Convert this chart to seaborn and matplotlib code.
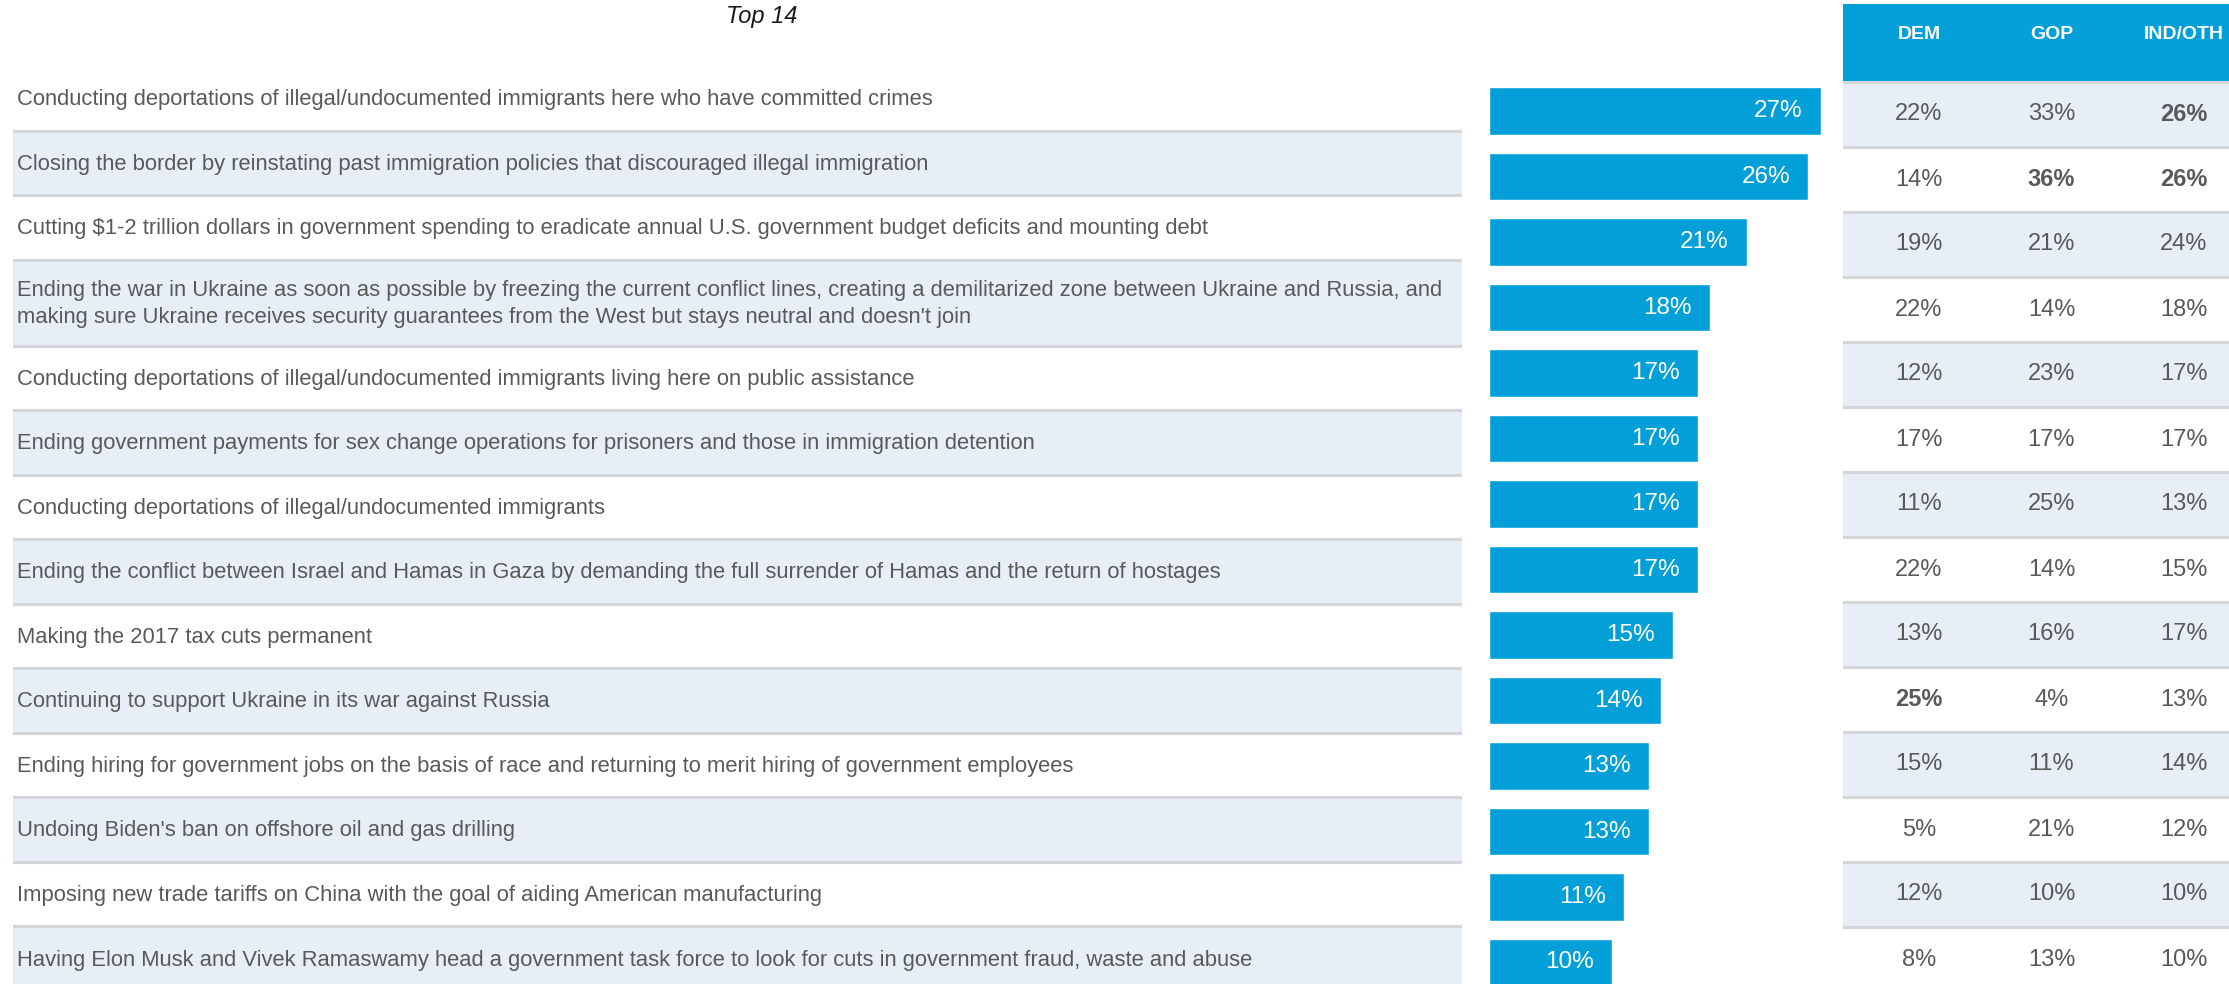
import matplotlib
matplotlib.use("Agg")
import matplotlib.pyplot as plt
import seaborn as sns
import pandas as pd

# Data
policies = [
    "Conducting deportations of illegal/undocumented immigrants here who have committed crimes",
    "Closing the border by reinstating past immigration policies that discouraged illegal immigration",
    "Cutting $1-2 trillion dollars in government spending to eradicate annual U.S. government budget deficits and mounting debt",
    "Ending the war in Ukraine as soon as possible by freezing the current conflict lines, creating a demilitarized zone between Ukraine and Russia, and\nmaking sure Ukraine receives security guarantees from the West but stays neutral and doesn't join",
    "Conducting deportations of illegal/undocumented immigrants living here on public assistance",
    "Ending government payments for sex change operations for prisoners and those in immigration detention",
    "Conducting deportations of illegal/undocumented immigrants",
    "Ending the conflict between Israel and Hamas in Gaza by demanding the full surrender of Hamas and the return of hostages",
    "Making the 2017 tax cuts permanent",
    "Continuing to support Ukraine in its war against Russia",
    "Ending hiring for government jobs on the basis of race and returning to merit hiring of government employees",
    "Undoing Biden's ban on offshore oil and gas drilling",
    "Imposing new trade tariffs on China with the goal of aiding American manufacturing",
    "Having Elon Musk and Vivek Ramaswamy head a government task force to look for cuts in government fraud, waste and abuse",
]
overall = [27, 26, 21, 18, 17, 17, 17, 17, 15, 14, 13, 13, 11, 10]
party_cols = ["DEM", "GOP", "IND/OTH"]
dem = [22, 14, 19, 22, 12, 17, 11, 22, 13, 25, 15, 5, 12, 8]
gop = [33, 36, 21, 14, 23, 17, 25, 14, 16, 4, 11, 21, 10, 13]
ind = [26, 26, 24, 18, 17, 17, 13, 15, 17, 13, 14, 12, 10, 10]
# cells shown in bold (row, column)
bold_cells = [(0, 2), (1, 1), (1, 2), (9, 0)]
title = "Top 14"

BLUE = "#029fd9"
BAND = "#e7eef8"
LINE = "#d3d5d9"
GREY = "#595959"
FONT = "Liberation Sans"

sns.set_theme(style="white")
plt.rcParams["font.family"] = [FONT, "DejaVu Sans"]

W, H = 2229, 984
fig = plt.figure(figsize=(W / 100, H / 100), dpi=100)


def px_axes(x0, y0, x1, y1):
    # axes placed by pixel box (top-left origin)
    return fig.add_axes([x0 / W, 1 - y1 / H, (x1 - x0) / W, (y1 - y0) / H])


# ---- left label panel ----
heights = [1 + 0.33 * p.count("\n") for p in policies]
ax_lab = px_axes(13, 66, 1462, 991)
ax_lab.set_xlim(0, 1)
ax_lab.set_ylim(sum(heights), 0)
ax_lab.axis("off")
top = 0
for i, (p, h) in enumerate(zip(policies, heights)):
    if i % 2 == 1:
        ax_lab.axhspan(top, top + h, color=BAND, lw=0, zorder=0)
    if i > 0:
        ax_lab.axhline(top, color=LINE, lw=2.2, zorder=1)
    if i % 2 == 1:
        ax_lab.axhline(top + h, color=LINE, lw=2.2, zorder=1)
    ax_lab.text(0.003, top + h / 2 + 0.02, p, ha="left", va="center", fontsize=15.8,
                color=GREY, linespacing=1.4)
    top += h

# ---- bar panel ----
df = pd.DataFrame({"policy": policies, "overall": overall})
ax_bar = px_axes(1489, 78.25, 1843, 995.25)
sns.barplot(data=df, x="overall", y="policy", orient="h", color=BLUE,
            width=0.72, saturation=1, ax=ax_bar)
ax_bar.set_xlim(0, 354 / 12.28)
ax_bar.set_ylim(len(policies) - 0.5, -0.5)
ax_bar.axis("off")
for i, v in enumerate(overall):
    ax_bar.annotate(f"{v}%", (v, i), xytext=(-13, 0), textcoords="offset points",
                    ha="right", va="center", color="white", fontsize=17.5)

# ---- party table ----
ax_tab = px_axes(1843, 4, 2229, 992)
ax_tab.set_xlim(-0.574, 2.34)
ax_tab.set_ylim(len(policies) - 0.5, -1.7)
ax_tab.axis("off")
ax_tab.axhspan(-1.7, -0.5, color=BLUE, lw=0, zorder=0)
for j, c in enumerate(party_cols):
    ax_tab.text(j, -1.238, c, ha="center", va="center", color="white",
                fontsize=14, fontweight="bold")
for i, row in enumerate(zip(dem, gop, ind)):
    if i % 2 == 0:
        ax_tab.axhspan(i - 0.5, i + 0.5, color=BAND, lw=0, zorder=0)
    ax_tab.axhline(i - 0.5, color=LINE, lw=2.2, zorder=1)
    for j, v in enumerate(row):
        ax_tab.text(j, i, f"{v}%", ha="center", va="center", color=GREY, fontsize=17,
                    fontweight="bold" if (i, j) in bold_cells else "normal")

fig.text(762 / W, 1 - 16 / H, title, ha="center", va="center", fontsize=17,
         fontstyle="italic", color="#1a1a1a")

fig.savefig("out.png", dpi=100)
